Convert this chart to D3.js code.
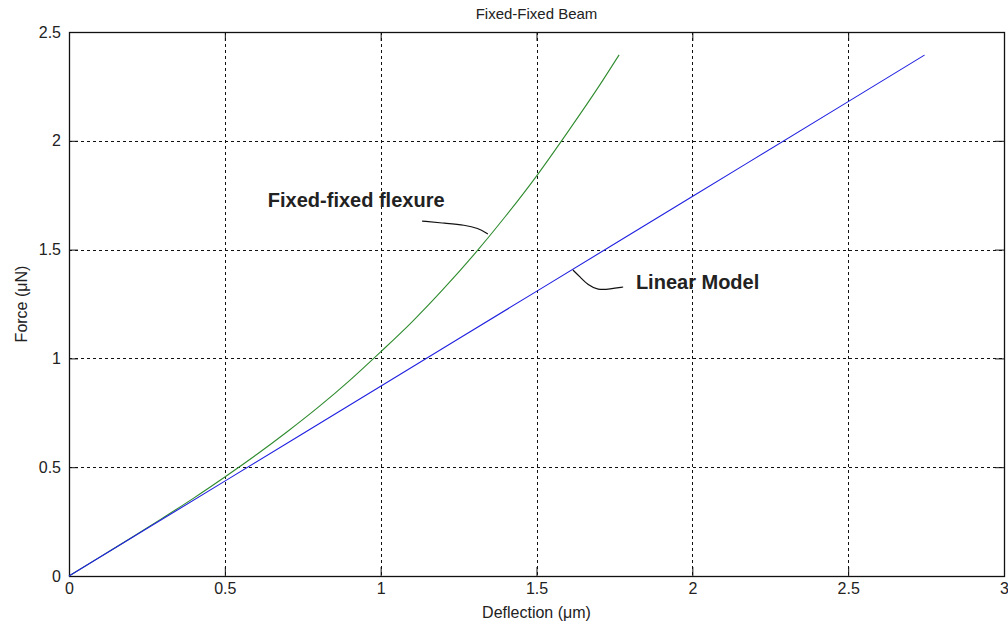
<!DOCTYPE html>
<html>
<head>
<meta charset="utf-8">
<script src="https://cdn.jsdelivr.net/npm/d3@7"></script>
<style>
  body { margin: 0; background: #fff; }
  text { font-family: "Liberation Sans", Arial, sans-serif; fill: #222; }
</style>
</head>
<body>
<div id="chart"></div>
<script>
// data
var xTicks = [0, 0.5, 1, 1.5, 2, 2.5, 3];
var yTicks = [0, 0.5, 1, 1.5, 2, 2.5];

var flexX = [0, 0.1, 0.2, 0.3, 0.4, 0.5, 0.6, 0.7, 0.8, 0.9, 1.0, 1.1, 1.2, 1.3, 1.4, 1.5, 1.6, 1.7, 1.765];
var flexY = [0, 0.088, 0.176, 0.266, 0.358, 0.455, 0.556, 0.663, 0.776, 0.898, 1.03, 1.167, 1.317, 1.478, 1.652, 1.838, 2.04, 2.25, 2.395];

var linX = [0, 0.25, 0.5, 1, 1.5, 2, 2.5, 2.745];
var linY = [0, 0.218, 0.436, 0.872, 1.308, 1.744, 2.18, 2.394];

// annotation leader lines (data coords)
var flexArrowX = [1.133, 1.206, 1.271, 1.312, 1.344];
var flexArrowY = [1.631, 1.621, 1.613, 1.599, 1.572];
var linArrowX = [1.778, 1.736, 1.697, 1.665, 1.640, 1.617];
var linArrowY = [1.328, 1.319, 1.314, 1.337, 1.374, 1.406];

var labels = [
  {text: "Fixed-fixed flexure", x: 0.638, y: 1.696},
  {text: "Linear Model", x: 1.819, y: 1.318}
];

var W = 1008, H = 630;
var margin = {top: 32, right: 4, bottom: 54, left: 69},
    width = W - margin.left - margin.right,
    height = H - margin.top - margin.bottom;

var svg = d3.select("#chart").append("svg")
    .attr("width", W)
    .attr("height", H);

var g = svg.append("g")
    .attr("transform", "translate(" + margin.left + "," + margin.top + ")");

var x = d3.scaleLinear().domain([0, 3]).range([0, width]),
    y = d3.scaleLinear().domain([0, 2.5]).range([height, 0]);

// grid
g.selectAll(".vgrid").data(xTicks.slice(1, -1)).enter().append("line")
    .attr("x1", function(d) { return Math.round(x(d)) + 0.5; })
    .attr("x2", function(d) { return Math.round(x(d)) + 0.5; })
    .attr("y1", 0).attr("y2", height)
    .attr("stroke", "#111").attr("stroke-dasharray", "3,3");
g.selectAll(".hgrid").data(yTicks.slice(1, -1)).enter().append("line")
    .attr("y1", function(d) { return Math.round(y(d)) + 0.5; })
    .attr("y2", function(d) { return Math.round(y(d)) + 0.5; })
    .attr("x1", 0).attr("x2", width)
    .attr("stroke", "#111").attr("stroke-dasharray", "3,3");

// axes, ticks inward on all sides
var tk = 9;
var xAxis = g.append("g").attr("transform", "translate(0," + height + ")")
    .call(d3.axisBottom(x).tickValues(xTicks).tickSize(-tk).tickPadding(7).tickFormat(d3.format("")));
var xTop = g.append("g")
    .call(d3.axisTop(x).tickValues(xTicks).tickSize(-tk).tickFormat(""));
var yAxis = g.append("g")
    .call(d3.axisLeft(y).tickValues(yTicks).tickSize(-tk).tickPadding(8).tickFormat(d3.format("")));
var yRight = g.append("g").attr("transform", "translate(" + width + ",0)")
    .call(d3.axisRight(y).tickValues(yTicks).tickSize(-tk).tickFormat(""));

[xAxis, xTop, yAxis, yRight].forEach(function(a) {
  a.select(".domain").remove();
  a.selectAll("line").attr("stroke", "#111");
  a.selectAll("text").style("font-size", "16px").attr("fill", "#333");
});

g.append("rect")
    .attr("x", 0.5).attr("y", 0.5)
    .attr("width", width).attr("height", height)
    .attr("fill", "none").attr("stroke", "#111").attr("stroke-width", 1.3);

// curves
var line = d3.line()
    .x(function(d) { return x(d[0]); })
    .y(function(d) { return y(d[1]); })
    .curve(d3.curveMonotoneX);

g.append("path")
    .datum(d3.zip(flexX, flexY))
    .attr("d", line)
    .attr("fill", "none").attr("stroke", "#2e8b2e").attr("stroke-width", 1.1);

g.append("path")
    .datum(d3.zip(linX, linY))
    .attr("d", line)
    .attr("fill", "none").attr("stroke", "#2020e0").attr("stroke-width", 1.1);

// annotations
var lead = d3.line()
    .x(function(d) { return x(d[0]); })
    .y(function(d) { return y(d[1]); })
    .curve(d3.curveBasis);

[[flexArrowX, flexArrowY], [linArrowX, linArrowY]].forEach(function(a) {
  g.append("path")
      .datum(d3.zip(a[0], a[1]))
      .attr("d", lead)
      .attr("fill", "none").attr("stroke", "#111").attr("stroke-width", 1.2);
});

g.selectAll(".lbl").data(labels).enter().append("text")
    .attr("x", function(d) { return x(d.x); })
    .attr("y", function(d) { return y(d.y); })
    .style("font-size", "20px").style("font-weight", "bold")
    .attr("fill", "#111")
    .text(function(d) { return d.text; });

// titles
svg.append("text")
    .attr("x", margin.left + width / 2).attr("y", 19)
    .attr("text-anchor", "middle").style("font-size", "15px")
    .text("Fixed-Fixed Beam");

svg.append("text")
    .attr("x", margin.left + width / 2).attr("y", 618)
    .attr("text-anchor", "middle").style("font-size", "16px")
    .text("Deflection (μm)");

svg.append("text")
    .attr("transform", "translate(27," + (margin.top + height / 2) + ")rotate(-90)")
    .attr("text-anchor", "middle").style("font-size", "16px")
    .text("Force (μN)");
</script>
</body>
</html>
